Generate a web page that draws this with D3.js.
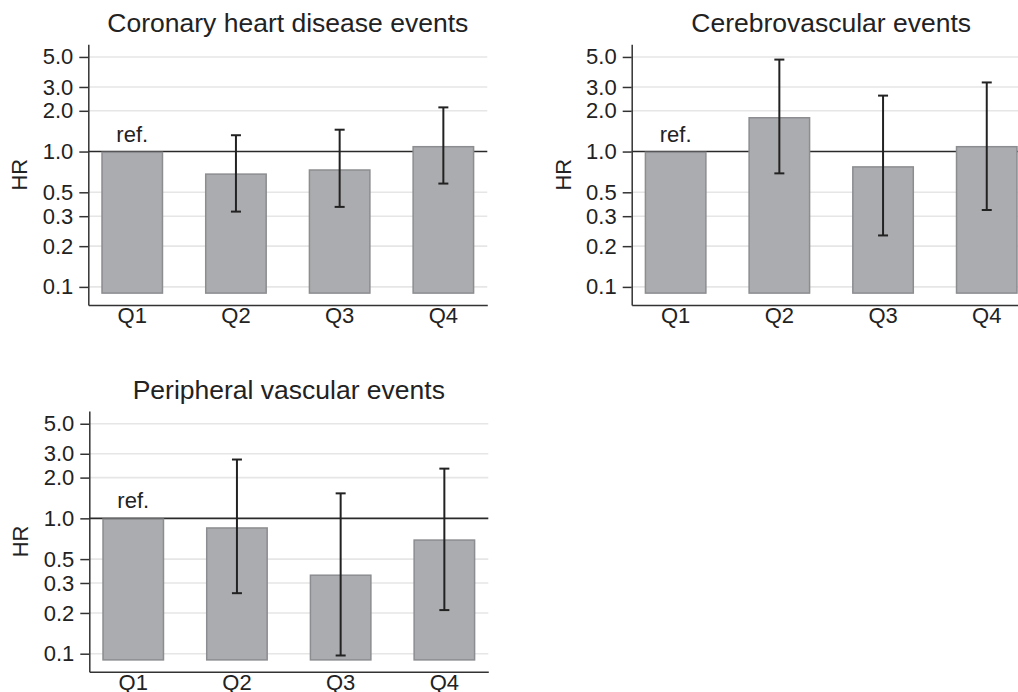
<!DOCTYPE html>
<html>
<head>
<meta charset="utf-8">
<script src="https://cdn.jsdelivr.net/npm/d3@7"></script>
<style>
  html, body { margin: 0; padding: 0; background: #fff; }
  svg { display: block; font-family: "Liberation Sans", Arial, Helvetica, sans-serif; }
</style>
</head>
<body>
<svg id="chart" width="1018" height="692"></svg>
<script>
// ---- data ----
const categories = ["Q1", "Q2", "Q3", "Q4"];
const panelTitles = ["Coronary heart disease events", "Cerebrovascular events", "Peripheral vascular events"];

const chdHR = [1.0, 0.69, 0.74, 1.10];
const chdLo = [null, 0.36, 0.39, 0.58];
const chdHi = [null, 1.32, 1.45, 2.12];

const cvHR = [1.0, 1.80, 0.78, 1.10];
const cvLo = [null, 0.69, 0.24, 0.37];
const cvHi = [null, 4.78, 2.59, 3.24];

const pvHR = [1.0, 0.86, 0.385, 0.70];
const pvLo = [null, 0.28, 0.097, 0.21];
const pvHi = [null, 2.72, 1.53, 2.33];

const yTickValues = [0.1, 0.2, 0.333, 0.5, 1, 2, 3, 5];
const yTickLabels = ["0.1", "0.2", "0.3", "0.5", "1.0", "2.0", "3.0", "5.0"];
const refValue = 1.0;
const barBase = 0.09;
const yDomain = [0.0735, 6.2];
const refLabel = "ref.";
const yLabel = "HR";

// ---- layout ----
const svg = d3.select("#chart");
svg.append("rect").attr("width", 1018).attr("height", 692).attr("fill", "#fff");

const panels = [
  { title: panelTitles[0], hr: chdHR, lo: chdLo, hi: chdHi, dx: 0, dy: 0 },
  { title: panelTitles[1], hr: cvHR, lo: cvLo, hi: cvHi, dx: 543.4, dy: 0 },
  { title: panelTitles[2], hr: pvHR, lo: pvLo, hi: pvHi, dx: 1, dy: 366.8 }
];

const plotL = 88.3, plotR = 487.3, plotT = 44.3, plotB = 305;
const textColor = "#222";
const axisFont = 22;

const x = d3.scaleBand().domain(categories).range([plotL, plotR])
  .paddingInner(0.4025).paddingOuter(0.125);
const y = d3.scaleLog().domain(yDomain).range([plotB, plotT]);

panels.forEach(p => {
  const g = svg.append("g").attr("transform", `translate(${p.dx},${p.dy})`);

  // title
  g.append("text")
    .attr("x", (plotL + plotR) / 2).attr("y", 32.3)
    .attr("text-anchor", "middle")
    .attr("font-size", 26.5).attr("fill", textColor)
    .text(p.title);

  // gridlines
  g.append("g").selectAll("line")
    .data(yTickValues.filter(v => v !== refValue))
    .join("line")
    .attr("x1", plotL).attr("x2", plotR)
    .attr("y1", d => y(d)).attr("y2", d => y(d))
    .attr("stroke", "#e6e6e6").attr("stroke-width", 1.6);

  // reference line
  g.append("line")
    .attr("x1", plotL).attr("x2", plotR)
    .attr("y1", y(refValue)).attr("y2", y(refValue))
    .attr("stroke", "#2a2a2a").attr("stroke-width", 1.6);

  // bars
  g.append("g").selectAll("rect")
    .data(categories.map((c, i) => ({ c, v: p.hr[i] })))
    .join("rect")
    .attr("x", d => x(d.c) + 0.75)
    .attr("width", x.bandwidth() - 1.5)
    .attr("y", d => y(d.v) + 0.75)
    .attr("height", d => y(barBase) - y(d.v) - 0.75)
    .attr("fill", "#abacaf")
    .attr("stroke", "#8c8d90")
    .attr("stroke-width", 1.5);

  // error bars
  const eb = categories.map((c, i) => ({ c, lo: p.lo[i], hi: p.hi[i] })).filter(d => d.lo != null);
  const ebG = g.append("g").attr("stroke", "#222").attr("stroke-width", 2);
  const cx = d => x(d.c) + x.bandwidth() / 2;
  ebG.selectAll(".v").data(eb).join("line")
    .attr("x1", cx).attr("x2", cx)
    .attr("y1", d => y(d.lo)).attr("y2", d => y(d.hi));
  ebG.selectAll(".t").data(eb).join("line")
    .attr("x1", d => cx(d) - 5).attr("x2", d => cx(d) + 5)
    .attr("y1", d => y(d.hi)).attr("y2", d => y(d.hi));
  ebG.selectAll(".b").data(eb).join("line")
    .attr("x1", d => cx(d) - 5).attr("x2", d => cx(d) + 5)
    .attr("y1", d => y(d.lo)).attr("y2", d => y(d.lo));

  // ref label
  g.append("text")
    .attr("x", x(categories[0]) + x.bandwidth() / 2)
    .attr("y", y(refValue) - 10)
    .attr("text-anchor", "middle")
    .attr("font-size", axisFont).attr("fill", textColor)
    .text(refLabel);

  // y axis
  const yAxis = g.append("g").attr("transform", `translate(${plotL},0)`)
    .call(d3.axisLeft(y).tickValues(yTickValues)
      .tickFormat((d, i) => yTickLabels[i])
      .tickSize(9).tickSizeOuter(0).tickPadding(6));
  yAxis.select(".domain").attr("stroke", "#333").attr("stroke-width", 1.5);
  yAxis.selectAll(".tick line").attr("stroke", "#333").attr("stroke-width", 1.5);
  yAxis.selectAll(".tick text").attr("font-size", axisFont).attr("fill", textColor)
    .attr("font-family", null);

  // x axis
  const xAxis = g.append("g").attr("transform", `translate(0,${plotB})`)
    .call(d3.axisBottom(x).tickSize(0).tickSizeOuter(0).tickPadding(2.7));
  xAxis.select(".domain").attr("stroke", "#333").attr("stroke-width", 1.5);
  xAxis.selectAll(".tick text").attr("font-size", axisFont).attr("fill", textColor)
    .attr("font-family", null);

  // y label
  g.append("text")
    .attr("transform", `translate(27.3,${(plotT + plotB) / 2}) rotate(-90)`)
    .attr("text-anchor", "middle")
    .attr("font-size", axisFont).attr("fill", textColor)
    .text(yLabel);
});
</script>
</body>
</html>
